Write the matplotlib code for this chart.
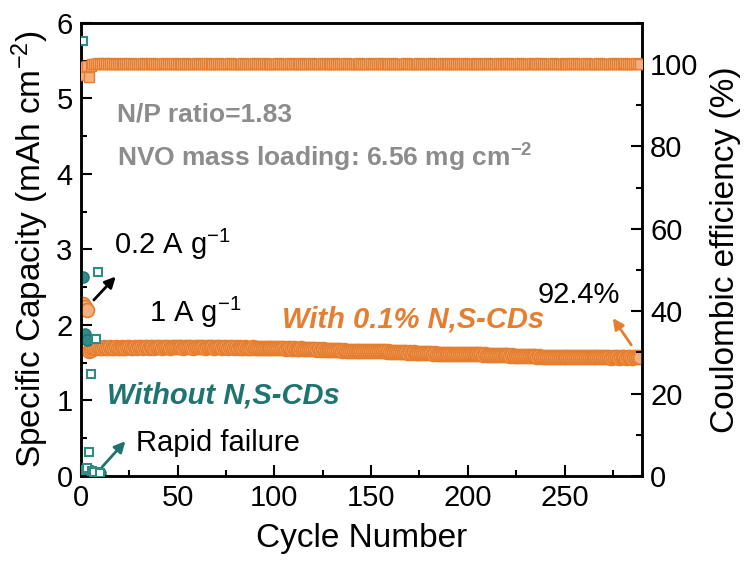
import numpy as np
import matplotlib
matplotlib.use("Agg")
import matplotlib.pyplot as plt
from matplotlib.ticker import MultipleLocator

plt.rcParams["font.family"] = ["Liberation Sans", "DejaVu Sans"]
plt.rcParams["mathtext.fontset"] = "custom"
plt.rcParams["mathtext.rm"] = "Liberation Sans"
plt.rcParams["mathtext.it"] = "Liberation Sans:italic"
plt.rcParams["mathtext.bf"] = "Liberation Sans:bold"

# discharge capacity (mAh cm-2), with 0.1% N,S-CDs
cap_with = [
    2.28, 2.24, 2.20, 1.65, 1.67, 1.69, 1.70, 1.70, 1.71, 1.70,
    1.70, 1.71, 1.70, 1.70, 1.71, 1.70, 1.70, 1.71, 1.70, 1.70,
    1.71, 1.70, 1.70, 1.71, 1.71, 1.70, 1.70, 1.71, 1.70, 1.71,
    1.71, 1.70, 1.71, 1.71, 1.70, 1.71, 1.71, 1.70, 1.71, 1.71,
    1.71, 1.70, 1.71, 1.71, 1.71, 1.70, 1.71, 1.71, 1.71, 1.71,
    1.71, 1.71, 1.70, 1.71, 1.71, 1.71, 1.71, 1.70, 1.71, 1.71,
    1.71, 1.71, 1.71, 1.70, 1.71, 1.71, 1.71, 1.71, 1.70, 1.71,
    1.71, 1.71, 1.70, 1.71, 1.71, 1.70, 1.71, 1.71, 1.70, 1.71,
    1.70, 1.71, 1.70, 1.70, 1.71, 1.70, 1.70, 1.70, 1.71, 1.70,
    1.70, 1.70, 1.69, 1.70, 1.70, 1.69, 1.70, 1.69, 1.69, 1.69,
    1.69, 1.69, 1.69, 1.69, 1.69, 1.68, 1.69, 1.69, 1.68, 1.69,
    1.68, 1.68, 1.68, 1.69, 1.68, 1.68, 1.68, 1.68, 1.68, 1.68,
    1.68, 1.67, 1.68, 1.67, 1.68, 1.67, 1.67, 1.67, 1.67, 1.67,
    1.67, 1.67, 1.67, 1.67, 1.66, 1.67, 1.66, 1.66, 1.66, 1.66,
    1.66, 1.66, 1.66, 1.66, 1.66, 1.66, 1.65, 1.66, 1.65, 1.65,
    1.65, 1.65, 1.65, 1.65, 1.65, 1.65, 1.65, 1.64, 1.65, 1.64,
    1.64, 1.64, 1.64, 1.64, 1.64, 1.64, 1.64, 1.64, 1.63, 1.64,
    1.63, 1.64, 1.63, 1.63, 1.63, 1.63, 1.63, 1.63, 1.63, 1.63,
    1.63, 1.62, 1.63, 1.62, 1.62, 1.62, 1.62, 1.62, 1.62, 1.62,
    1.62, 1.62, 1.62, 1.62, 1.61, 1.62, 1.61, 1.61, 1.61, 1.61,
    1.61, 1.61, 1.61, 1.61, 1.61, 1.61, 1.61, 1.60, 1.61, 1.60,
    1.60, 1.60, 1.60, 1.60, 1.60, 1.60, 1.60, 1.60, 1.60, 1.60,
    1.60, 1.59, 1.60, 1.59, 1.59, 1.59, 1.59, 1.59, 1.59, 1.59,
    1.59, 1.59, 1.59, 1.59, 1.59, 1.58, 1.59, 1.58, 1.58, 1.58,
    1.58, 1.58, 1.58, 1.58, 1.58, 1.58, 1.58, 1.58, 1.58, 1.58,
    1.58, 1.58, 1.58, 1.57, 1.58, 1.58, 1.57, 1.58, 1.57, 1.57,
    1.57, 1.58, 1.57, 1.57, 1.57, 1.57, 1.57, 1.57, 1.57, 1.57,
    1.57, 1.57, 1.57, 1.56, 1.57, 1.57, 1.57, 1.56, 1.57, 1.57,
    1.57, 1.56, 1.57, 1.57, 1.56, 1.57, 1.57, 1.57, 1.57,
]

# coulombic efficiency (%), with 0.1% N,S-CDs
ce_with = [
    97.4, 99.2, 99.6, 96.9, 99.5, 99.9, 100.1, 100.0, 100.2, 100.1,
    100.0, 100.2, 100.1, 100.0, 100.1, 100.2, 100.0, 100.1, 100.1, 100.0,
    100.2, 100.1, 100.0, 100.1, 100.1, 100.2, 100.0, 100.1, 100.0, 100.1,
    100.1, 100.2, 100.0, 100.1, 100.1, 100.0, 100.2, 100.1, 100.1, 100.0,
    100.1, 100.0, 100.2, 100.1, 100.0, 100.1, 100.1, 100.2, 100.0, 100.1,
    100.1, 100.0, 100.1, 100.2, 100.1, 100.0, 100.1, 100.1, 100.0, 100.2,
    100.1, 100.0, 100.1, 100.1, 100.2, 100.0, 100.1, 100.0, 100.1, 100.1,
    100.2, 100.1, 100.0, 100.1, 100.0, 100.1, 100.2, 100.1, 100.0, 100.1,
    100.1, 100.0, 100.1, 100.2, 100.0, 100.1, 100.1, 100.0, 100.1, 100.2,
    100.0, 100.1, 100.1, 100.0, 100.2, 100.1, 100.0, 100.1, 100.1, 100.0,
    100.1, 100.2, 100.0, 100.1, 100.1, 100.0, 100.1, 100.2, 100.1, 100.0,
    100.1, 100.1, 100.0, 100.2, 100.1, 100.0, 100.1, 100.1, 100.2, 100.0,
    100.1, 100.0, 100.1, 100.1, 100.2, 100.0, 100.1, 100.1, 100.0, 100.1,
    100.2, 100.1, 100.0, 100.1, 100.1, 100.0, 100.2, 100.1, 100.0, 100.1,
    100.1, 100.0, 100.1, 100.2, 100.1, 100.0, 100.1, 100.1, 100.0, 100.2,
    100.1, 100.0, 100.1, 100.1, 100.2, 100.0, 100.1, 100.0, 100.1, 100.1,
    100.2, 100.1, 100.0, 100.1, 100.1, 100.0, 100.1, 100.2, 100.0, 100.1,
    100.1, 100.0, 100.1, 100.1, 100.2, 100.0, 100.1, 100.1, 100.0, 100.1,
    100.2, 100.0, 100.1, 100.1, 100.0, 100.1, 100.2, 100.1, 100.0, 100.1,
    100.1, 100.0, 100.2, 100.1, 100.0, 100.1, 100.1, 100.2, 100.0, 100.1,
    100.0, 100.1, 100.1, 100.2, 100.0, 100.1, 100.1, 100.0, 100.1, 100.2,
    100.1, 100.0, 100.1, 100.1, 100.0, 100.2, 100.1, 100.0, 100.1, 100.1,
    100.2, 100.0, 100.1, 100.1, 100.0, 100.1, 100.2, 100.1, 100.0, 100.1,
    100.1, 100.0, 100.2, 100.1, 100.1, 100.0, 100.1, 100.2, 100.0, 100.1,
    100.1, 100.0, 100.1, 100.2, 100.1, 100.0, 100.1, 100.1, 100.0, 100.2,
    100.1, 100.0, 100.1, 100.1, 100.2, 100.0, 100.1, 100.0, 100.1, 100.1,
    100.2, 100.1, 100.0, 100.1, 100.1, 100.0, 100.1, 100.2, 100.0, 100.1,
    100.1, 100.0, 100.1, 100.1, 100.2, 100.0, 100.1, 100.1, 100.0, 100.1,
    100.2, 100.0, 100.1, 100.1, 100.0, 100.1, 100.2, 100.1, 100.0,
]

# bare electrolyte, fails within the first cycles
cap_without = [2.64, 1.88, 1.80, 0.08, 0.06, 0.05, 0.05, 0.04, 0.04, 0.04]
ce_without = [105.7, 1.5, 2.0, 5.8, 24.8, 1.2, 1.0, 33.3, 49.5, 0.8]

cyc_with = np.arange(1, len(cap_with) + 1)
cyc_without = np.arange(1, len(cap_without) + 1)

orange = "#E67E30"
orange_light = "#F3B07E"
teal = "#1D7470"
teal_fill = "#2E8C86"
gray = "#8C8C8C"

fig = plt.figure(figsize=(7.49, 5.70), dpi=100)
ax1 = fig.add_axes([0.108, 0.165, 0.749, 0.795])
ax2 = ax1.twinx()

ax1.plot(cyc_with, cap_with, "o", ms=10, mfc=orange_light, mec=orange, mew=1.2, zorder=3)
ax1.plot(cyc_without, cap_without, "o", ms=8, mfc=teal_fill, mec=teal, mew=1.0, zorder=4)

ax2.plot(cyc_with, ce_with, "s", ms=7.5, mfc=orange_light, mec=orange, mew=1.0, zorder=3)
ax2.plot(cyc_without, ce_without, "s", ms=6, mfc="white", mec=teal_fill, mew=1.5, zorder=4)

ax1.set_xlim(0, 290)
ax1.set_ylim(0, 6)
ax2.set_ylim(0, 110)

ax1.xaxis.set_major_locator(MultipleLocator(50))
ax1.xaxis.set_minor_locator(MultipleLocator(25))
ax1.yaxis.set_major_locator(MultipleLocator(1))
ax1.yaxis.set_minor_locator(MultipleLocator(0.5))
ax2.yaxis.set_major_locator(MultipleLocator(20))
ax2.yaxis.set_minor_locator(MultipleLocator(10))

for ax in (ax1, ax2):
    ax.tick_params(which="major", direction="in", length=8, width=1.5, labelsize=21, pad=6)
    ax.tick_params(which="minor", direction="in", length=4, width=1.5)
    for sp in ax.spines.values():
        sp.set_linewidth(1.8)
ax1.tick_params(axis="y", which="both", right=False)
ax1.tick_params(axis="x", which="both", top=False)

ax1.set_xlabel("Cycle Number", fontsize=24, labelpad=8)
ax1.set_ylabel("Specific Capacity (mAh cm$^{-2}$)", fontsize=24, labelpad=4)
ax2.set_ylabel("Coulombic efficiency (%)", fontsize=24, labelpad=8)

# annotations
ax1.text(18.5, 4.78, "N/P ratio=1.83", fontsize=19, fontweight="bold", color=gray, va="center")
ax1.text(18.5, 4.21, "NVO mass loading: 6.56 mg cm$^{\\mathbf{-2}}$", fontsize=19,
         fontweight="bold", color=gray, va="center")
ax1.text(17, 3.06, "0.2 A g$^{-1}$", fontsize=21, va="center")
ax1.text(35, 2.17, "1 A g$^{-1}$", fontsize=21, va="center")
ax1.text(104, 2.07, "With 0.1% N,S-CDs", fontsize=21, fontweight="bold",
         fontstyle="italic", color=orange, va="center")
ax1.text(236, 2.40, "92.4%", fontsize=21, va="center")
ax1.text(13.5, 1.07, "Without N,S-CDs", fontsize=21, fontweight="bold",
         fontstyle="italic", color=teal, va="center")
ax1.text(28.5, 0.44, "Rapid failure", fontsize=21, va="center")

arrow = dict(arrowstyle="-|>", lw=2, mutation_scale=16, shrinkA=0, shrinkB=0)
ax1.annotate("", xy=(18, 2.64), xytext=(6.7, 2.33), arrowprops=dict(arrow, color="black"))
ax1.annotate("", xy=(23, 0.46), xytext=(11, 0.12), arrowprops=dict(arrow, color=teal))
ax1.annotate("", xy=(275, 2.09), xytext=(284.5, 1.735), arrowprops=dict(arrow, color=orange))

fig.savefig("out.png", dpi=100)
